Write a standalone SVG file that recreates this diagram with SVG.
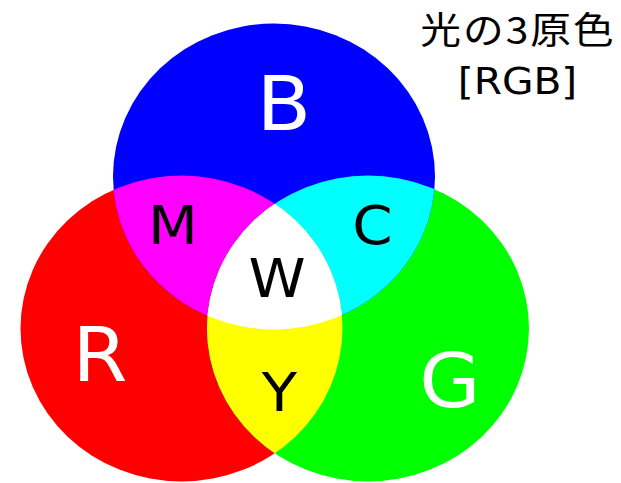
<svg xmlns="http://www.w3.org/2000/svg" width="621" height="483" viewBox="0 0 621 483">
  <style>
    .big { font-family: "DejaVu Sans", "Liberation Sans", sans-serif; font-size: 74px; fill: #ffffff; text-anchor: middle; }
    .mix { font-family: "DejaVu Sans", "Liberation Sans", sans-serif; font-size: 54px; fill: #000000; text-anchor: middle; }
    .title { font-family: "Noto Sans CJK JP", "Noto Sans", sans-serif; font-size: 37px; fill: #000000; text-anchor: middle; }
    .sub { font-family: "DejaVu Sans", "Liberation Sans", sans-serif; font-size: 37px; fill: #000000; text-anchor: middle; }
  </style>
  <defs>
    <ellipse id="eB" cx="274" cy="176.5" rx="161" ry="153"/>
    <ellipse id="eR" cx="181.5" cy="328.5" rx="161" ry="153"/>
    <ellipse id="eG" cx="368" cy="328.5" rx="161" ry="153"/>
    <clipPath id="clipB"><use href="#eB"/></clipPath>
    <clipPath id="clipG"><use href="#eG"/></clipPath>
  </defs>
  <rect width="621" height="483" fill="#ffffff"/>

  <g id="circle-R"><use href="#eR" fill="#ff0000"/></g>
  <g id="circle-G"><use href="#eG" fill="#00ff00"/></g>
  <g id="circle-B"><use href="#eB" fill="#0000ff"/></g>

  <g id="region-M"><use href="#eR" fill="#ff00ff" clip-path="url(#clipB)"/></g>
  <g id="region-C"><use href="#eG" fill="#00ffff" clip-path="url(#clipB)"/></g>
  <g id="region-Y"><use href="#eR" fill="#ffff00" clip-path="url(#clipG)"/></g>
  <g id="region-W" clip-path="url(#clipG)"><use href="#eR" fill="#ffffff" clip-path="url(#clipB)"/></g>

  <g id="labels">
    <text class="big" transform="translate(284,130) scale(1.07,1)">B</text>
    <text class="big" transform="translate(100,381) scale(1.07,1)">R</text>
    <text class="big" transform="translate(450,407) scale(1.07,1)">G</text>
    <text class="mix" transform="translate(173,244) scale(1.07,1)">M</text>
    <text class="mix" transform="translate(277,297) scale(1.07,1)">W</text>
    <text class="mix" transform="translate(372.5,244) scale(1.07,1)">C</text>
    <text class="mix" transform="translate(279.5,411) scale(1.07,1)">Y</text>
  </g>

  <g id="title">
    <text class="title" transform="translate(517,43.5) scale(1.1,1)" textLength="176" lengthAdjust="spacing">光の3原色</text>
    <text class="sub" transform="translate(517.5,94) scale(1.1,1)">[RGB]</text>
  </g>
</svg>
